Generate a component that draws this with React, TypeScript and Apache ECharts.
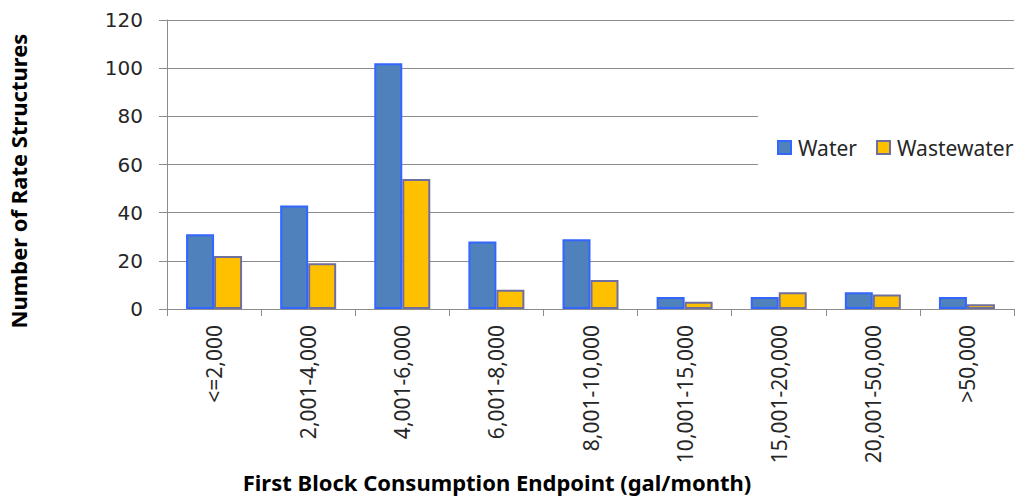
import React, { useEffect, useRef } from "react";
import * as echarts from "echarts";

const categories = [
  "<=2,000",
  "2,001-4,000",
  "4,001-6,000",
  "6,001-8,000",
  "8,001-10,000",
  "10,001-15,000",
  "15,001-20,000",
  "20,001-50,000",
  ">50,000",
];
const waterValues = [31, 43, 102, 28, 29, 5, 5, 7, 5];
const wastewaterValues = [22, 19, 54, 8, 12, 3, 7, 6, 2];
const yTicks = { min: 0, max: 120, interval: 20 };

const FONT = "'Noto Sans', 'Open Sans', sans-serif";
const GRID_COLOR = "#8c8c8c";

export default function App() {
  const ref = useRef<HTMLDivElement>(null);
  useEffect(() => {
    if (!ref.current) return;
    const chart = echarts.init(ref.current, undefined, { renderer: "svg" });
    chart.setOption({
      animation: false,
      backgroundColor: "#ffffff",
      textStyle: { fontFamily: FONT },
      grid: { left: 167, right: 8, top: 20, bottom: 191, containLabel: false },
      legend: {
        orient: "horizontal",
        left: 777,
        top: 137,
        width: 260,
        padding: 0,
        itemWidth: 13,
        itemHeight: 13,
        itemGap: 19,
        icon: "rect",
        textStyle: { fontFamily: FONT, fontSize: 21, color: "#262626", padding: [0, 0, 0, 2] },
        data: ["Water", "Wastewater"],
        z: 10,
      },
      xAxis: {
        type: "category",
        data: categories,
        axisLine: { show: true, lineStyle: { color: GRID_COLOR, width: 1 } },
        axisTick: { show: true, length: 7, interval: 0, lineStyle: { color: GRID_COLOR } },
        axisLabel: {
          interval: 0,
          rotate: 90,
          margin: 16,
          fontFamily: FONT,
          fontSize: 21,
          color: "#262626",
        },
      },
      yAxis: {
        type: "value",
        min: yTicks.min,
        max: yTicks.max,
        interval: yTicks.interval,
        axisLine: { show: true, lineStyle: { color: GRID_COLOR, width: 1 } },
        axisTick: { show: true, length: 8, lineStyle: { color: GRID_COLOR } },
        splitLine: { show: true, lineStyle: { color: GRID_COLOR, width: 1 } },
        axisLabel: { margin: 24, fontFamily: "'DejaVu Sans', sans-serif", fontSize: 20, color: "#262626" },
      },
      series: [
        {
          name: "Water",
          type: "bar",
          data: waterValues,
          barWidth: 28,
          barGap: "0%",
          itemStyle: { color: "#4f81bd", borderColor: "#3366ff", borderWidth: 2 },
        },
        {
          name: "Wastewater",
          type: "bar",
          data: wastewaterValues,
          barWidth: 28,
          itemStyle: { color: "#ffc000", borderColor: "#6f6f9f", borderWidth: 2 },
        },
      ],
      graphic: [
        {
          type: "rect",
          z: 5,
          shape: { x: 758, y: 92, width: 264, height: 100 },
          style: { fill: "#ffffff" },
        },
        {
          type: "text",
          x: 497,
          y: 482,
          style: {
            text: "First Block Consumption Endpoint (gal/month)",
            fontFamily: FONT,
            fontWeight: "bold",
            fontSize: 22,
            fill: "#000000",
            align: "center",
            verticalAlign: "middle",
          },
        },
        {
          type: "text",
          x: 18,
          y: 181,
          rotation: Math.PI / 2,
          style: {
            text: "Number of Rate Structures",
            fontFamily: FONT,
            fontWeight: "bold",
            fontSize: 22,
            fill: "#000000",
            align: "center",
            verticalAlign: "middle",
          },
        },
      ],
    });
    return () => chart.dispose();
  }, []);
  return (
    <div
      ref={ref}
      style={{ position: "absolute", left: 0, top: 0, width: 1022, height: 500 }}
    />
  );
}
